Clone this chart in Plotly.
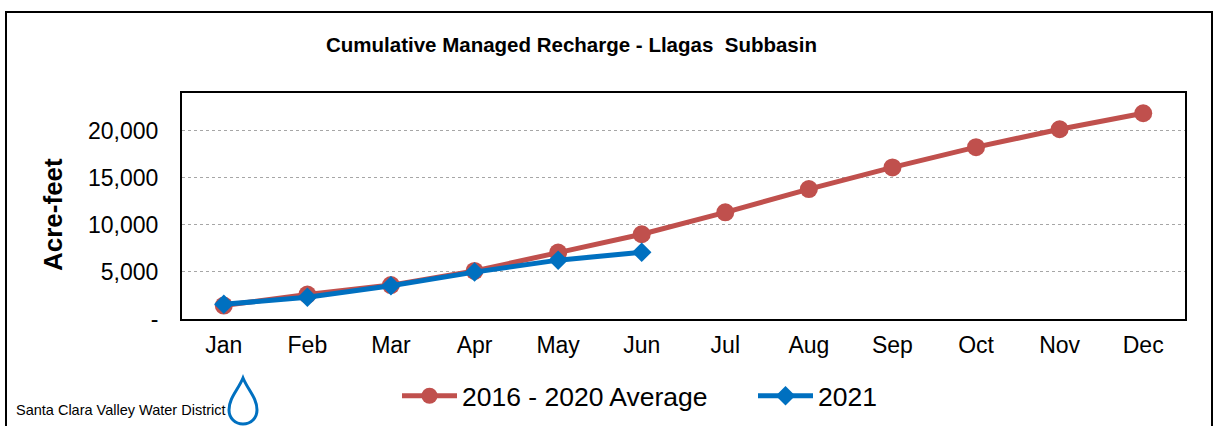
import plotly.graph_objects as go

months = ["Jan", "Feb", "Mar", "Apr", "May", "Jun", "Jul", "Aug", "Sep", "Oct", "Nov", "Dec"]
avg_2016_2020 = [1430, 2600, 3600, 5100, 7050, 9000, 11330, 13800, 16100, 18250, 20150, 21850]
months_2021 = ["Jan", "Feb", "Mar", "Apr", "May", "Jun"]
values_2021 = [1560, 2300, 3530, 4980, 6250, 7080]
y_tickvals = [0, 5000, 10000, 15000, 20000]
y_ticktext = ["-", "5,000", "10,000", "15,000", "20,000"]

W, H = 1216, 426
L, R, T, B = 182, 1185, 93, 319


def px(x):
    return (x - L) / (R - L)


def py(y):
    return (B - y) / (B - T)


RED = "#C0504D"
BLUE = "#0070C0"

fig = go.Figure()
fig.add_trace(go.Scatter(
    x=months, y=avg_2016_2020, name="2016 - 2020 Average", mode="lines+markers",
    line=dict(color=RED, width=5), marker=dict(symbol="circle", size=18, color=RED)))
fig.add_trace(go.Scatter(
    x=months_2021, y=values_2021, name="2021", mode="lines+markers",
    line=dict(color=BLUE, width=5), marker=dict(symbol="diamond", size=15, color=BLUE)))

# drop icon (pixel coords -> paper coords)
drop = [("M", [(243, 378)]),
        ("C", [(238, 390), (229, 398), (229, 410)]),
        ("C", [(229, 418), (235, 424), (243, 424)]),
        ("C", [(251, 424), (257, 418), (257, 410)]),
        ("C", [(257, 398), (248, 390), (243, 378)])]
path = ""
for cmd, pts in drop:
    path += cmd + " " + ", ".join(f"{px(a):.5f} {py(b):.5f}" for a, b in pts) + " "
path += "Z"

fig.update_layout(
    width=W, height=H,
    margin=dict(l=L, r=W - R, t=T, b=H - B, pad=0, autoexpand=False),
    paper_bgcolor="white", plot_bgcolor="white",
    font=dict(family="Liberation Sans, Arial", color="black", size=23),
    showlegend=True,
    legend=dict(orientation="h", x=px(397), xanchor="left", y=py(396), yanchor="middle",
                font=dict(size=26.5), itemwidth=55, entrywidth=286, bgcolor="rgba(0,0,0,0)"),
    xaxis=dict(type="category", categoryorder="array", categoryarray=months,
               range=[-0.5, 11.5], showline=True, linecolor="black", linewidth=2, mirror=True,
               ticks="outside", ticklen=4, tickcolor="rgba(0,0,0,0)", automargin=False,
               tickfont=dict(size=23), showgrid=False, zeroline=False),
    yaxis=dict(range=[0, 24000], tickvals=y_tickvals, ticktext=y_ticktext,
               showline=True, linecolor="black", linewidth=2, mirror=True,
               ticks="outside", ticklen=17, tickcolor="rgba(0,0,0,0)", automargin=False,
               tickfont=dict(size=23), showgrid=True, gridcolor="#A6A6A6", griddash="dot",
               gridwidth=1, zeroline=False),
    shapes=[
        dict(type="rect", xref="paper", yref="paper", x0=px(6), x1=px(1212), y0=py(445), y1=py(12),
             line=dict(color="black", width=2), fillcolor="rgba(0,0,0,0)", layer="below"),
        dict(type="path", xref="paper", yref="paper", path=path,
             line=dict(color=BLUE, width=3), fillcolor="rgba(0,0,0,0)"),
    ],
    annotations=[
        dict(text="<b>Cumulative Managed Recharge - Llagas  Subbasin</b>", xref="paper", yref="paper",
             x=px(571), y=py(44), xanchor="center", yanchor="middle", showarrow=False,
             font=dict(size=20.5)),
        dict(text="<b>Acre-feet</b>", xref="paper", yref="paper", x=px(53), y=py(215),
             xanchor="center", yanchor="middle", textangle=-90, showarrow=False,
             font=dict(size=26)),
        dict(text="Santa Clara Valley Water District", xref="paper", yref="paper",
             x=px(14), y=py(410), xanchor="left", yanchor="middle", showarrow=False,
             font=dict(size=14.5)),
    ],
)

fig.write_html(
    "out.html",
    config={"displayModeBar": False},
    post_script="document.body.style.margin='0';document.body.style.overflow='hidden';",
)
